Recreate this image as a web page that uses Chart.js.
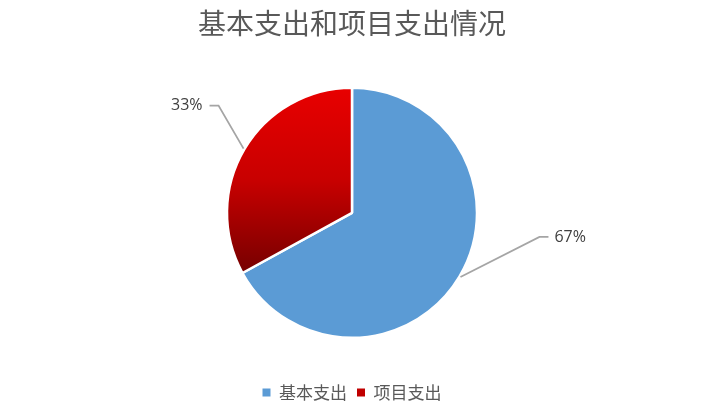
<!DOCTYPE html>
<html>
<head>
<meta charset="utf-8">
<script src="https://cdn.jsdelivr.net/npm/chart.js@4/dist/chart.umd.min.js"></script>
<style>
  html, body { margin: 0; padding: 0; background: #ffffff; }
  #wrap { width: 704px; height: 420px; }
</style>
</head>
<body>
<div id="wrap"><canvas id="pie-chart"></canvas></div>
<script>
/* 基本支出和项目支出情况 - 饼图 */

const titulo = '基本支出和项目支出情况';
const categorias = ['基本支出', '项目支出'];
const valores = [67, 33];

const AZUL = '#5B9BD5';
const GRIS_TEXTO = '#595959';
const FUENTE = "'Noto Sans CJK SC', 'Noto Sans', sans-serif";

// quiebre de la línea guía (dx, dy desde el borde del sector)
const quiebres = [[79, -40], [-25, -43]];

function colorSector(context) {
  if (context.dataIndex === 0) return AZUL;
  const area = context.chart.chartArea;
  if (!area) return '#C00000';
  const cy = (area.top + area.bottom) / 2;
  const g = context.chart.ctx.createLinearGradient(0, cy - 125, 0, cy + 60);
  g.addColorStop(0, '#E80000');
  g.addColorStop(0.5, '#C80000');
  g.addColorStop(1, '#760000');
  return g;
}

const etiquetasPlugin = {
  id: 'etiquetas',
  afterDatasetsDraw(chart) {
    const ctx = chart.ctx;
    const meta = chart.getDatasetMeta(0);
    const total = valores.reduce((acc, v) => acc + v, 0);
    meta.data.forEach((arc, i) => {
      const p = arc.getProps(['x', 'y', 'startAngle', 'endAngle', 'outerRadius'], true);
      const medio = (p.startAngle + p.endAngle) / 2;
      const r = p.outerRadius + 1;
      const x0 = p.x + Math.cos(medio) * r;
      const y0 = p.y + Math.sin(medio) * r;
      const x1 = x0 + quiebres[i][0];
      const y1 = y0 + quiebres[i][1];
      const derecha = quiebres[i][0] > 0;
      const x2 = x1 + (derecha ? 9 : -9);

      ctx.save();
      ctx.strokeStyle = '#A5A5A5';
      ctx.lineWidth = 1.8;
      ctx.beginPath();
      ctx.moveTo(x0, y0);
      ctx.lineTo(x1, y1);
      ctx.lineTo(x2, y1);
      ctx.stroke();

      ctx.fillStyle = '#404040';
      ctx.font = "16px 'Open Sans', 'Noto Sans', sans-serif";
      ctx.textBaseline = 'middle';
      ctx.textAlign = derecha ? 'left' : 'right';
      const texto = Math.round(valores[i] / total * 100) + '%';
      ctx.fillText(texto, x2 + (derecha ? 6 : -7), y1);
      ctx.restore();
    });
  }
};

new Chart(document.getElementById('pie-chart'), {
  type: 'pie',
  data: {
    labels: categorias,
    datasets: [{
      data: valores,
      backgroundColor: colorSector,
      borderColor: '#ffffff',
      borderWidth: 2.5,
      radius: 125,
    }],
  },
  options: {
    responsive: true,
    maintainAspectRatio: false,
    animation: false,
    layout: {
      padding: { top: 0, bottom: 9 },
    },
    plugins: {
      title: {
        display: true,
        text: titulo,
        color: GRIS_TEXTO,
        font: { family: FUENTE, size: 28, weight: 'normal' },
        padding: { top: 7, bottom: 11 },
      },
      legend: {
        display: true,
        position: 'bottom',
        labels: {
          color: GRIS_TEXTO,
          font: { family: FUENTE, size: 17 },
          boxWidth: 8,
          boxHeight: 8,
          padding: 10,
          generateLabels(chart) {
            return categorias.map((c, i) => ({
              text: c,
              fillStyle: i === 0 ? AZUL : '#C00000',
              strokeStyle: i === 0 ? AZUL : '#C00000',
              fontColor: GRIS_TEXTO,
              lineWidth: 0,
              index: i,
            }));
          },
        },
      },
      tooltip: { enabled: false },
    },
  },
  plugins: [etiquetasPlugin],
});
</script>
</body>
</html>
